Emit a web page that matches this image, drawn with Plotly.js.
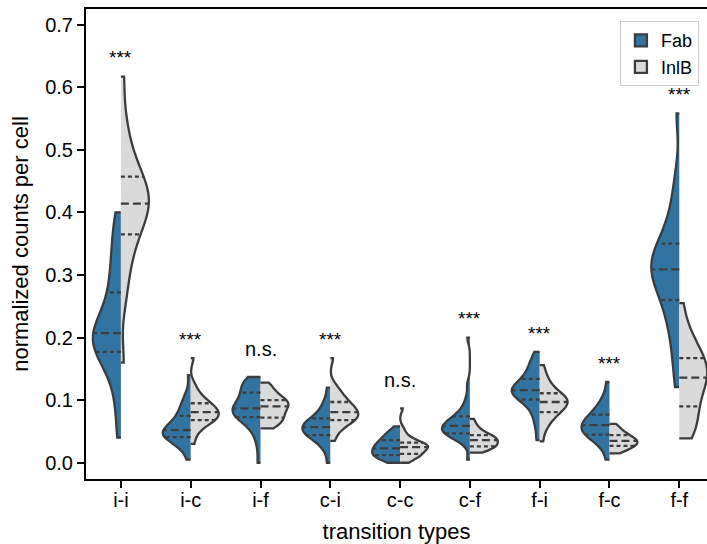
<!DOCTYPE html>
<html><head><meta charset="utf-8">
<script src="https://cdn.plot.ly/plotly-3.0.1.min.js"></script>
<style>body{margin:0;background:#fff}</style>
</head><body><div id="chart" style="width:707px;height:544px"></div>
<script>
// ---------- data ----------
const categories = ['i-i','i-c','i-f','c-i','c-c','c-f','f-i','f-c','f-f'];
const groupNames = ['Fab','InlB'];
const significance = ['***','***','n.s.','***','n.s.','***','***','***','***'];

const fab_ii = [0.040,0.085,0.120,0.145,0.160,0.170,0.177,0.183,0.189,0.195,0.200,0.204,0.207,0.212,0.220,0.230,0.242,0.256,0.272,0.290,0.308,0.328,0.350,0.374,0.400];
const fab_ic = [0.005,0.020,0.028,0.033,0.036,0.039,0.041,0.043,0.045,0.047,0.049,0.051,0.052,0.055,0.058,0.061,0.065,0.070,0.075,0.080,0.086,0.093,0.101,0.112,0.140];
const fab_if = [0.000,0.030,0.048,0.058,0.065,0.070,0.073,0.076,0.079,0.081,0.083,0.085,0.087,0.090,0.094,0.098,0.103,0.108,0.112,0.117,0.122,0.126,0.130,0.134,0.137];
const fab_ci = [0.000,0.018,0.027,0.033,0.037,0.041,0.044,0.046,0.048,0.050,0.052,0.055,0.057,0.059,0.061,0.063,0.066,0.068,0.071,0.075,0.080,0.086,0.093,0.103,0.120];
const fab_cc = [0.000,0.003,0.006,0.008,0.010,0.011,0.012,0.014,0.016,0.018,0.020,0.022,0.023,0.025,0.027,0.029,0.031,0.033,0.036,0.038,0.041,0.044,0.047,0.051,0.058];
const fab_cf = [0.005,0.030,0.037,0.041,0.044,0.046,0.047,0.049,0.051,0.053,0.055,0.057,0.059,0.061,0.063,0.065,0.068,0.071,0.074,0.078,0.084,0.092,0.104,0.125,0.200];
const fab_fi = [0.036,0.058,0.072,0.083,0.091,0.097,0.101,0.104,0.107,0.110,0.112,0.114,0.116,0.118,0.121,0.123,0.126,0.130,0.134,0.139,0.145,0.151,0.158,0.166,0.177];
const fab_fc = [0.005,0.022,0.030,0.036,0.040,0.043,0.045,0.048,0.050,0.053,0.055,0.058,0.060,0.062,0.065,0.068,0.071,0.074,0.077,0.081,0.086,0.092,0.099,0.109,0.129];
const fab_ff = [0.121,0.160,0.190,0.213,0.232,0.247,0.260,0.271,0.281,0.290,0.298,0.304,0.309,0.315,0.321,0.328,0.335,0.342,0.350,0.362,0.377,0.396,0.420,0.458,0.558];

const inlb_ii = [0.160,0.255,0.290,0.315,0.335,0.352,0.365,0.375,0.385,0.394,0.402,0.408,0.414,0.420,0.427,0.434,0.441,0.449,0.457,0.468,0.481,0.498,0.520,0.555,0.617];
const inlb_ic = [0.030,0.045,0.053,0.059,0.063,0.066,0.068,0.070,0.072,0.074,0.076,0.078,0.081,0.083,0.085,0.087,0.089,0.092,0.095,0.098,0.102,0.107,0.114,0.125,0.167];
const inlb_if = [0.055,0.058,0.061,0.064,0.067,0.070,0.072,0.075,0.078,0.081,0.084,0.087,0.090,0.092,0.094,0.096,0.098,0.099,0.100,0.104,0.108,0.113,0.118,0.123,0.128];
const inlb_ci = [0.035,0.047,0.055,0.060,0.064,0.066,0.068,0.071,0.073,0.075,0.077,0.079,0.081,0.083,0.086,0.088,0.091,0.094,0.097,0.101,0.105,0.110,0.116,0.124,0.167];
const inlb_cc = [0.000,0.004,0.007,0.009,0.011,0.013,0.014,0.016,0.018,0.020,0.022,0.024,0.025,0.026,0.027,0.028,0.029,0.030,0.032,0.034,0.037,0.041,0.046,0.055,0.087];
const inlb_cf = [0.016,0.019,0.021,0.023,0.024,0.025,0.026,0.028,0.030,0.031,0.033,0.034,0.036,0.037,0.038,0.040,0.041,0.042,0.044,0.046,0.049,0.052,0.056,0.062,0.070];
const inlb_fi = [0.034,0.052,0.061,0.068,0.073,0.078,0.081,0.084,0.087,0.090,0.092,0.095,0.097,0.099,0.101,0.103,0.106,0.108,0.111,0.115,0.120,0.126,0.133,0.142,0.156];
const inlb_fc = [0.015,0.018,0.020,0.022,0.024,0.026,0.027,0.028,0.030,0.031,0.032,0.034,0.035,0.036,0.037,0.039,0.040,0.042,0.044,0.046,0.048,0.051,0.054,0.058,0.062];
const inlb_ff = [0.039,0.045,0.052,0.060,0.070,0.080,0.090,0.100,0.108,0.116,0.123,0.130,0.136,0.141,0.146,0.150,0.155,0.161,0.167,0.174,0.182,0.192,0.205,0.218,0.255];

const fabSamples  = [fab_ii, fab_ic, fab_if, fab_ci, fab_cc, fab_cf, fab_fi, fab_fc, fab_ff];
const inlbSamples = [inlb_ii, inlb_ic, inlb_if, inlb_ci, inlb_cc, inlb_cf, inlb_fi, inlb_fc, inlb_ff];

// ---------- style ----------
const FONT = 'Liberation Sans, Arial, Helvetica, sans-serif';
const EDGE = '#3c3c3c';
const COLORS = {Fab: '#3274a1', InlB: '#dadada'};
const VIOLIN_GAP = 0.2;               // half width of each violin = 0.5*(1-gap)
const HALF = 0.5 * (1 - VIOLIN_GAP);
const BW_FACTOR = 0.85;
const LW = 2.3;

// ---------- helpers (same KDE as plotly violin) ----------
function quant(arr, p) {
  const s = [...arr].sort((a, b) => a - b);
  const pos = (s.length - 1) * p, lo = Math.floor(pos), hi = Math.ceil(pos);
  return s[lo] + (s[hi] - s[lo]) * (pos - lo);
}
function stdev(arr) {
  const m = arr.reduce((a, b) => a + b, 0) / arr.length;
  return Math.sqrt(arr.reduce((a, b) => a + (b - m) * (b - m), 0) / (arr.length - 1));
}
function bandwidth(arr) {
  const iqr = quant(arr, 0.75) - quant(arr, 0.25);
  return BW_FACTOR * 1.059 * Math.min(stdev(arr), iqr / 1.349) * Math.pow(arr.length, -0.2);
}
function kde(arr, bw, x) {
  let s = 0;
  for (const v of arr) { const u = (x - v) / bw; s += Math.exp(-0.5 * u * u) / Math.sqrt(2 * Math.PI); }
  return s / (arr.length * bw);
}
function maxKde(arr, bw) {
  const mn = Math.min(...arr), mx = Math.max(...arr);
  const dist = mx - mn, n = Math.ceil(dist / (bw / 3)), step = dist / n;
  let m = 0;
  for (let t = mn; t < mx + step / 2; t += step) m = Math.max(m, kde(arr, bw, t));
  return m;
}

const traces = [], shapes = [], annotations = [];
[fabSamples, inlbSamples].forEach((set, g) => {
  const name = groupNames[g];
  const sideSign = g === 0 ? -1 : 1;
  set.forEach((vals, i) => {
    const bw = bandwidth(vals);
    traces.push({
      type: 'violin', x: vals.map(() => categories[i]), y: vals,
      name: name, showlegend: i === 0,
      side: g === 0 ? 'negative' : 'positive',
      scalegroup: name + i, scalemode: 'width', spanmode: 'hard', bandwidth: bw,
      points: false, box: {visible: false}, meanline: {visible: false},
      fillcolor: COLORS[name], line: {color: EDGE, width: LW}, hoverinfo: 'skip'
    });
    const mk = maxKde(vals, bw);
    [0.25, 0.5, 0.75].forEach(p => {
      const q = quant(vals, p);
      const w = kde(vals, bw, q) / mk * HALF;
      shapes.push({
        type: 'line', xref: 'x', yref: 'y', x0: i, x1: i + sideSign * w, y0: q, y1: q,
        line: {color: EDGE, width: LW, dash: p === 0.5 ? '8px,4px' : '4px,3px'}, layer: 'above'
      });
    });
  });
});

categories.forEach((c, i) => {
  const top = Math.max(...fabSamples[i], ...inlbSamples[i]);
  const isNs = significance[i] === 'n.s.';
  annotations.push({
    x: i, y: top + (isNs ? 0.045 : 0.030), xref: 'x', yref: 'y',
    text: significance[i], showarrow: false, yanchor: 'middle',
    font: {family: FONT, size: isNs ? 20 : 19, color: '#000'}
  });
});

const layout = {
  width: 707, height: 544,
  margin: {l: 86, r: 0, t: 9, b: 65},
  paper_bgcolor: '#fff', plot_bgcolor: '#fff',
  font: {family: FONT, color: '#000'},
  violinmode: 'overlay', violingap: VIOLIN_GAP, violingroupgap: 0,
  showlegend: true,
  xaxis: {
    type: 'category', categoryorder: 'array', categoryarray: categories,
    range: [-0.5, 8.397], showgrid: false, zeroline: false,
    showline: true, linecolor: '#000', linewidth: 2, mirror: true,
    ticks: 'outside', ticklen: 7, tickwidth: 2, tickcolor: '#000',
    ticklabelstandoff: -5,
    tickfont: {family: FONT, size: 20, color: '#000'},
    title: {text: 'transition types', font: {family: FONT, size: 22, color: '#000'}, standoff: 14}
  },
  yaxis: {
    range: [-0.026, 0.725], tick0: 0, dtick: 0.1, tickformat: '.1f',
    showgrid: false, zeroline: false,
    showline: true, linecolor: '#000', linewidth: 2,
    ticks: 'outside', ticklen: 7, tickwidth: 2, tickcolor: '#000',
    tickfont: {family: FONT, size: 20, color: '#000'},
    title: {text: 'normalized counts per cell', font: {family: FONT, size: 22, color: '#000'}, standoff: 10}
  },
  legend: {
    x: 0.987, xanchor: 'right', y: 0.974, yanchor: 'top',
    bordercolor: '#cccccc', borderwidth: 1, bgcolor: 'rgba(255,255,255,0.85)',
    font: {family: FONT, size: 18, color: '#000'}, tracegroupgap: 0, traceorder: 'normal',
    itemwidth: 30
  },
  shapes: shapes, annotations: annotations
};

Plotly.newPlot('chart', traces, layout, {displayModeBar: false, staticPlot: true});
</script>
</body></html>
